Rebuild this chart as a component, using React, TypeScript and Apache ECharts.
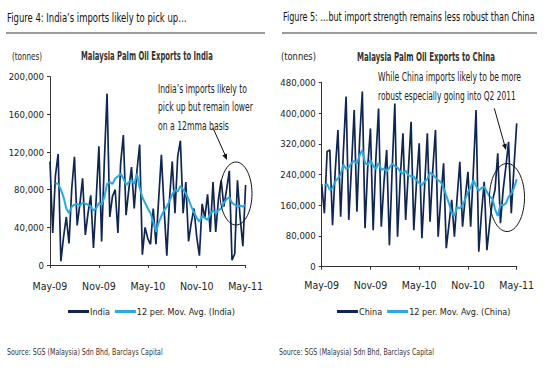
import React, { useEffect, useRef } from "react";
import * as echarts from "echarts";

// Months shown on the time axis (10-day periods, 3 per month)
const months = [
  "May-09","Jun-09","Jul-09","Aug-09","Sep-09","Oct-09","Nov-09","Dec-09",
  "Jan-10","Feb-10","Mar-10","Apr-10","May-10","Jun-10","Jul-10","Aug-10",
  "Sep-10","Oct-10","Nov-10","Dec-10","Jan-11","Feb-11","Mar-11","Apr-11","May-11",
];
const dekads = ["D1", "D2", "D3"];
const periods: string[] = [];
months.forEach((m) => dekads.forEach((d) => periods.push(m + " " + d)));
const categories = periods.slice(0, 73);

const tickLabels = ["May-09", "Nov-09", "May-10", "Nov-10", "May-11"];

// India, tonnes
const india = [
  110000, 34000, 95000, 118000, 4000, 30000, 51000, 23000, 81000, 115000,
  42000, 65000, 92000, 32000, 55000, 74000, 18000, 70000, 126000, 25000,
  110000, 182000, 51000, 73000, 80000, 34000, 108000, 138000, 53000, 80000,
  104000, 60000, 100000, 128000, 11000, 40000, 28000, 22000, 60000, 22000,
  70000, 117000, 60000, 10000, 70000, 110000, 55000, 115000, 132000, 55000,
  88000, 25000, 45000, 60000, 30000, 10000, 65000, 50000, 75000, 35000,
  88000, 35000, 70000, 90000, 62000, 80000, 100000, 5000, 12000, 90000,
  50000, 20000, 85000,
];
const indiaMA = [
  null, null, 87000, 86000, 80000, 72000, 60000, 55000, 62000, 64000,
  65000, 63000, 66000, 65000, 64000, 62000, 58000, 60000, 66000, 64000,
  72000, 86000, 88000, 86000, 92000, 94000, 97000, 92000, 85000, 88000,
  90000, 86000, 97000, 82000, 72000, 66000, 60000, 55000, 46000, 35000,
  45000, 52000, 58000, 62000, 68000, 75000, 80000, 78000, 84000, 80000,
  76000, 70000, 62000, 56000, 50000, 46000, 52000, 50000, 48000, 54000,
  58000, 55000, 58000, 60000, 66000, 70000, 72000, 66000, 64000, 62000,
  63000, 62000, 64000,
];

// China, tonnes
const china = [
  215000, 139000, 300000, 304000, 108000, 250000, 356000, 130000, 300000, 443000,
  122000, 260000, 408000, 143000, 330000, 456000, 100000, 260000, 360000, 95000,
  280000, 412000, 104000, 220000, 304000, 56000, 250000, 425000, 78000, 230000,
  347000, 122000, 250000, 377000, 95000, 220000, 321000, 74000, 210000, 347000,
  117000, 250000, 356000, 78000, 180000, 269000, 48000, 110000, 174000, 78000,
  180000, 273000, 104000, 180000, 247000, 104000, 250000, 408000, 39000, 139000,
  221000, 43000, 110000, 170000, 200000, 295000, 113000, 200000, 260000, 325000,
  139000, 260000, 373000,
];
const chinaMA = [
  null, 213000, 215000, 200000, 205000, 222000, 230000, 240000, 265000, 255000,
  258000, 270000, 275000, 268000, 290000, 304000, 270000, 265000, 278000, 262000,
  255000, 270000, 252000, 255000, 248000, 258000, 268000, 262000, 258000, 248000,
  242000, 250000, 238000, 235000, 234000, 225000, 218000, 212000, 222000, 228000,
  245000, 240000, 232000, 225000, 220000, 205000, 185000, 165000, 140000, 132000,
  155000, 152000, 160000, 175000, 195000, 205000, 225000, 210000, 198000, 205000,
  208000, 195000, 182000, 178000, 150000, 132000, 162000, 160000, 165000, 182000,
  190000, 205000, 228000,
];

const NAVY = "#0f2552";
const LIGHT = "#29a9e1";
const FONT = "'DejaVu Sans Condensed', 'Liberation Sans', sans-serif";
const TXT = "#222";

let measureCtx: CanvasRenderingContext2D | null = null;
function measure(t: string, size: number, weight: string) {
  if (!measureCtx) measureCtx = document.createElement("canvas").getContext("2d");
  if (!measureCtx) return t.length * size * 0.5;
  measureCtx.font = `${weight} ${size}px ${FONT}`;
  return measureCtx.measureText(t).width;
}

function xAxis(gridIndex: number, margin: number) {
  return {
    type: "category",
    gridIndex,
    data: categories,
    boundaryGap: false,
    axisLine: { lineStyle: { color: "#333", width: 1 } },
    axisTick: { interval: 17, length: 3, lineStyle: { color: "#333" } },
    axisLabel: {
      interval: 17,
      color: TXT,
      fontFamily: FONT,
      fontSize: 10.5,
      margin,
      formatter: (_v: string, i: number) => tickLabels[Math.round(i / 18)] ?? "",
    },
    splitLine: { show: false },
  };
}

function yAxis(gridIndex: number, max: number, interval: number) {
  return {
    type: "value",
    gridIndex,
    min: 0,
    max,
    interval,
    axisLine: { show: true, lineStyle: { color: "#333", width: 1 } },
    axisTick: { show: true, length: 3, lineStyle: { color: "#333" } },
    axisLabel: {
      color: TXT,
      fontFamily: FONT,
      fontSize: 9.5,
      margin: 6,
      formatter: (v: number) => v.toLocaleString("en-US"),
    },
    splitLine: { show: false },
  };
}

// text squeezed horizontally to the reference's condensed width
function text(x: number, y: number, t: string, size: number, width: number, opts: any = {}) {
  const weight = opts.weight ?? "normal";
  const w = measure(t, size, weight);
  const sx = Math.min(1.2, width / w);
  return {
    type: "text",
    x,
    y,
    scaleX: sx,
    scaleY: 1,
    z: 50,
    style: {
      text: t,
      fontSize: size,
      fontFamily: FONT,
      fill: opts.fill ?? TXT,
      fontWeight: weight,
      textAlign: opts.align ?? "left",
      textVerticalAlign: "middle",
    },
  };
}

export default function App() {
  const ref = useRef<HTMLDivElement>(null);
  useEffect(() => {
    if (!ref.current) return;
    const chart = echarts.init(ref.current, undefined, { renderer: "svg" });
    const legendText = { fontFamily: FONT, fontSize: 9, color: TXT, padding: [0, 0, 0, -4] };
    chart.setOption({
      animation: false,
      backgroundColor: "#fff",
      grid: [
        { left: 50, top: 76.7, width: 195.6, height: 188.3 },
        { left: 321.7, top: 82.3, width: 195, height: 184.4 },
      ],
      xAxis: [xAxis(0, 15), xAxis(1, 13)],
      yAxis: [yAxis(0, 200000, 40000), yAxis(1, 480000, 80000)],
      legend: [
        {
          left: 63,
          top: 302,
          itemWidth: 21,
          itemHeight: 3,
          itemGap: 5,
          icon: "rect",
          textStyle: legendText,
          data: ["India", "12 per. Mov. Avg. (India)"],
        },
        {
          left: 332,
          top: 302,
          itemWidth: 21,
          itemHeight: 3,
          itemGap: 5,
          icon: "rect",
          textStyle: legendText,
          data: ["China", "12 per. Mov. Avg. (China)"],
        },
      ],
      series: [
        {
          name: "India", type: "line", xAxisIndex: 0, yAxisIndex: 0, data: india,
          showSymbol: false, lineStyle: { color: NAVY, width: 1.7 }, itemStyle: { color: NAVY },
        },
        {
          name: "12 per. Mov. Avg. (India)", type: "line", xAxisIndex: 0, yAxisIndex: 0, data: indiaMA,
          showSymbol: false, lineStyle: { color: LIGHT, width: 2 }, itemStyle: { color: LIGHT },
        },
        {
          name: "China", type: "line", xAxisIndex: 1, yAxisIndex: 1, data: china,
          showSymbol: false, lineStyle: { color: NAVY, width: 1.7 }, itemStyle: { color: NAVY },
        },
        {
          name: "12 per. Mov. Avg. (China)", type: "line", xAxisIndex: 1, yAxisIndex: 1, data: chinaMA,
          showSymbol: false, lineStyle: { color: LIGHT, width: 2 }, itemStyle: { color: LIGHT },
        },
      ],
      graphic: [
        text(7, 17, "Figure 4: India\u2019s imports likely to pick up\u2026", 13, 180, { fill: "#111" }),
        text(283, 17, "Figure 5: \u2026but import strength remains less robust than China", 13, 252, { fill: "#111" }),
        { type: "line", shape: { x1: 6, y1: 33, x2: 265, y2: 33 }, style: { stroke: "#9a9a9a", lineWidth: 2 } },
        { type: "line", shape: { x1: 282, y1: 33, x2: 537, y2: 33 }, style: { stroke: "#9a9a9a", lineWidth: 2 } },
        text(12, 56, "(tonnes)", 11, 30),
        text(281, 56, "(tonnes)", 11, 35),
        text(81, 56, "Malaysia Palm Oil Exports to India", 11.5, 132, { weight: "bold", fill: "#333" }),
        text(357, 57, "Malaysia Palm Oil Exports to China", 11.5, 138, { weight: "bold", fill: "#333" }),
        text(158, 88, "India\u2019s imports likely to", 12, 89),
        text(158, 106.5, "pick up but remain lower", 12, 95),
        text(158, 125, "on a 12mma basis", 12, 71),
        text(378, 76, "While China imports likely to be more", 12, 143),
        text(378, 95, "robust especially going into Q2 2011", 12, 138),
        { type: "line", shape: { x1: 213, y1: 128, x2: 226, y2: 157 }, style: { stroke: "#111", lineWidth: 1 } },
        { type: "polygon", shape: { points: [[227, 160], [222.3, 155.5], [226.9, 153.5]] }, style: { fill: "#111" } },
        { type: "line", shape: { x1: 494.3, y1: 108.3, x2: 505.3, y2: 147.5 }, style: { stroke: "#111", lineWidth: 1 } },
        { type: "polygon", shape: { points: [[506, 150], [502, 144.9], [506.8, 143.5]] }, style: { fill: "#111" } },
        { type: "ellipse", shape: { cx: 236, cy: 193.5, rx: 16, ry: 31.5 }, style: { fill: "none", stroke: "#111", lineWidth: 1 }, z: 100 },
        { type: "ellipse", shape: { cx: 507, cy: 197.5, rx: 17.5, ry: 34 }, style: { fill: "none", stroke: "#111", lineWidth: 1 }, z: 100 },
        text(7, 352, "Source: SGS (Malaysia) Sdn Bhd, Barclays Capital", 9.5, 156, { fill: "#333" }),
        text(279, 352, "Source: SGS (Malaysia) Sdn Bhd, Barclays Capital", 9.5, 155, { fill: "#333" }),
      ],
    });
    return () => chart.dispose();
  }, []);
  return (
    <div
      ref={ref}
      style={{ position: "fixed", left: 0, top: 0, width: 552, height: 370, background: "#fff" }}
    />
  );
}
